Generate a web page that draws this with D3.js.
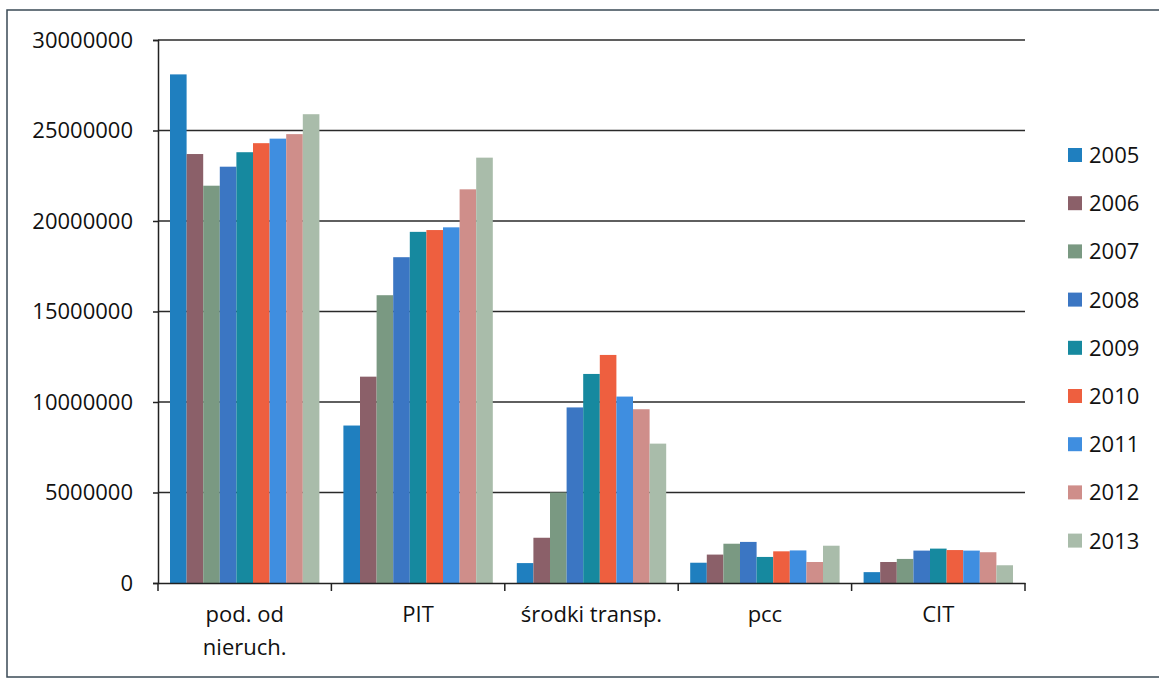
<!DOCTYPE html>
<html><head><meta charset="utf-8">
<script src="https://cdn.jsdelivr.net/npm/d3@7"></script>
<style>
html,body{margin:0;padding:0;background:#fff;}
text{font-family:"Open Sans","Liberation Sans",sans-serif;fill:#111;}
</style></head>
<body><svg id="c" width="1159" height="680"></svg>
<script>
const categories = ["pod. od nieruch.", "PIT", "środki transp.", "pcc", "CIT"];
const categoryLines = [["pod. od", "nieruch."], ["PIT"], ["środki transp."], ["pcc"], ["CIT"]];
const years = ["2005","2006","2007","2008","2009","2010","2011","2012","2013"];
const v2005 = [28100000, 8700000, 1100000, 1120000, 600000];
const v2006 = [23700000, 11400000, 2500000, 1570000, 1160000];
const v2007 = [21950000, 15900000, 5000000, 2170000, 1330000];
const v2008 = [23000000, 18000000, 9700000, 2270000, 1790000];
const v2009 = [23800000, 19400000, 11550000, 1440000, 1900000];
const v2010 = [24300000, 19500000, 12600000, 1750000, 1820000];
const v2011 = [24550000, 19650000, 10300000, 1800000, 1790000];
const v2012 = [24800000, 21750000, 9600000, 1160000, 1700000];
const v2013 = [25900000, 23500000, 7700000, 2060000, 980000];
const series = [v2005, v2006, v2007, v2008, v2009, v2010, v2011, v2012, v2013];
const colors = ["#1f7fbf","#8b6069","#7a9982","#3b76c3","#16899f","#ee5f3f","#3f8ee0","#cf8e8a","#a9bcaa"];
const yTicks = [0, 5000000, 10000000, 15000000, 20000000, 25000000, 30000000];

(function(){
const svg = d3.select("#c");
svg.append("rect").attr("x",7).attr("y",10).attr("width",1160).attr("height",667)
  .attr("fill","none").attr("stroke","#3a4a55").attr("stroke-width",1.5);

const pL = 158, pR = 1025, pT = 40, pB = 583;
const x0 = d3.scaleBand().domain(categories).range([pL, pR]).paddingInner(0).paddingOuter(0);
const innerPad = 12;
const x1 = d3.scaleBand().domain(years).range([innerPad, x0.bandwidth()-innerPad]).padding(0);
const y = d3.scaleLinear().domain([0, 30000000]).range([pB, pT]);

svg.append("g").selectAll("line").data(yTicks.filter(d=>d>0)).join("line")
  .attr("x1",pL).attr("x2",pR).attr("y1",d=>y(d)).attr("y2",d=>y(d))
  .attr("stroke","#2a2a2a").attr("stroke-width",1.5);

const yAxis = svg.append("g").attr("transform",`translate(${pL},0)`)
  .call(d3.axisLeft(y).tickValues(yTicks).tickFormat(d3.format("d")).tickSize(5).tickPadding(20));
yAxis.select(".domain").attr("stroke","#222").attr("stroke-width",1.5);
yAxis.selectAll(".tick line").attr("stroke","#222").attr("stroke-width",1.5);
yAxis.selectAll(".tick text").style("font-size","22px").attr("fill","#111");

const groups = svg.append("g").selectAll("g").data(categories).join("g")
  .attr("transform",d=>`translate(${x0(d)},0)`);
groups.selectAll("rect").data((c,i)=>years.map((yr,j)=>({yr, v: series[j][i], j})))
  .join("rect")
  .attr("x",d=>x1(d.yr)).attr("width",x1.bandwidth())
  .attr("y",d=>y(d.v)).attr("height",d=>y(0)-y(d.v))
  .attr("fill",d=>colors[d.j]);

const xAxis = svg.append("g").attr("transform",`translate(0,${pB})`)
  .call(d3.axisBottom(x0).tickSize(0).tickFormat(""));
xAxis.select(".domain").attr("stroke","#222").attr("stroke-width",1.5);
const tickPos = categories.map(c=>x0(c)).concat([pR]);
svg.append("g").selectAll("line").data(tickPos).join("line")
  .attr("x1",d=>d).attr("x2",d=>d).attr("y1",pB).attr("y2",pB+8)
  .attr("stroke","#222").attr("stroke-width",1.5);
const labels = svg.append("g").selectAll("text").data(categories).join("text")
  .attr("x",d=>x0(d)+x0.bandwidth()/2).attr("y",622)
  .attr("text-anchor","middle").style("font-size","22px");
labels.each(function(d,i){
  const t = d3.select(this);
  categoryLines[i].forEach((ln,k)=>{
    t.append("tspan").attr("x",x0(d)+x0.bandwidth()/2).attr("dy",k===0?0:33).text(ln);
  });
});

const leg = svg.append("g").selectAll("g").data(years).join("g")
  .attr("transform",(d,i)=>`translate(1068,${155 + i*48.2})`);
leg.append("rect").attr("x",0).attr("y",-7).attr("width",14).attr("height",14)
  .attr("fill",(d,i)=>colors[i]);
leg.append("text").attr("x",21).attr("y",8).style("font-size","22px").text(d=>d);
})();
</script></body></html>
